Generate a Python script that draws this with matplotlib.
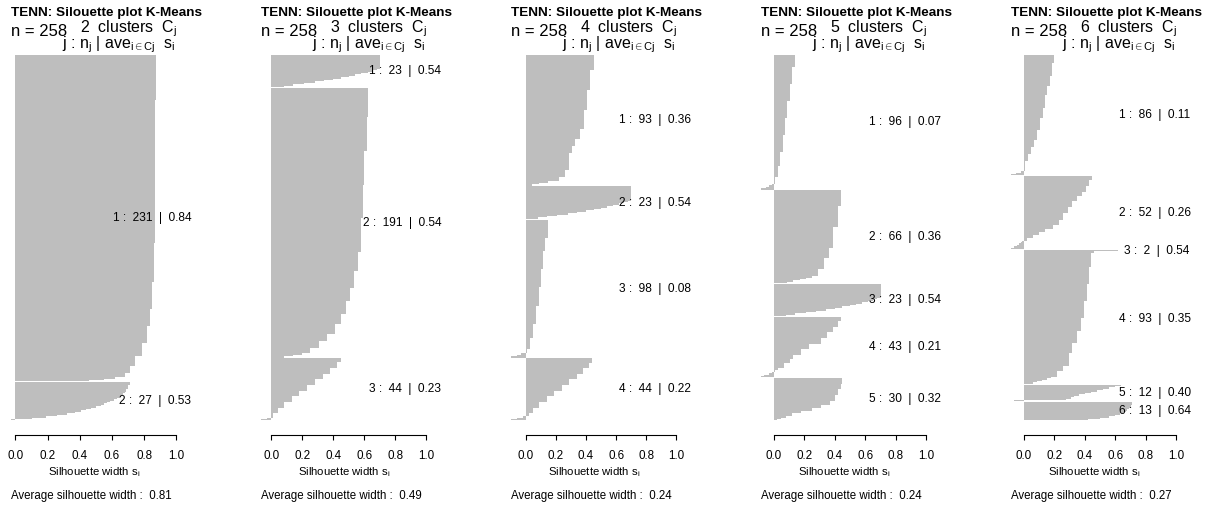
import numpy as np
import matplotlib
matplotlib.use("Agg")
import matplotlib.pyplot as plt
from matplotlib.transforms import ScaledTranslation

plt.rcParams['font.family'] = 'Liberation Sans'
plt.rcParams['mathtext.fontset'] = 'custom'
plt.rcParams['mathtext.rm'] = 'Liberation Sans'
plt.rcParams['mathtext.it'] = 'Liberation Sans'
plt.rcParams['mathtext.bf'] = 'Liberation Sans:bold'

# silhouette widths per cluster as (value, count) runs, top to bottom
c23 = [(0.70, 10), (0.68, 1), (0.65, 1), (0.62, 1), (0.58, 1), (0.54, 1), (0.50, 1),
       (0.45, 1), (0.40, 1), (0.34, 1), (0.28, 1), (0.21, 1), (0.14, 1), (0.08, 1)]

k2_runs = [
    [(0.875, 32), (0.866, 101), (0.86, 28), (0.85, 19), (0.835, 12), (0.815, 12), (0.785, 9),
     (0.745, 7), (0.71, 5), (0.68, 3), (0.62, 1), (0.55, 1), (0.46, 1)],
    [(0.71, 2), (0.70, 3), (0.69, 2), (0.68, 1), (0.67, 1), (0.66, 1), (0.65, 1), (0.63, 1),
     (0.61, 1), (0.59, 1), (0.57, 1), (0.55, 1), (0.53, 1), (0.50, 1), (0.47, 1), (0.44, 1),
     (0.41, 1), (0.37, 1), (0.32, 1), (0.26, 1), (0.19, 1), (0.10, 1), (-0.03, 1)],
]
k3_runs = [
    c23,
    [(0.625, 21), (0.615, 24), (0.60, 24), (0.59, 23), (0.575, 24), (0.56, 14), (0.535, 12),
     (0.51, 9), (0.48, 9), (0.45, 7), (0.41, 7), (0.36, 5), (0.31, 5), (0.25, 4), (0.20, 1),
     (0.14, 1), (0.08, 1)],
    [(0.45, 3), (0.42, 4), (0.38, 4), (0.33, 4), (0.28, 4), (0.23, 4), (0.18, 4), (0.13, 4),
     (0.08, 4), (0.04, 4), (0.01, 3), (-0.03, 1), (-0.07, 1)],
]
k4_runs = [
    [(0.45, 11), (0.43, 14), (0.41, 14), (0.39, 14), (0.36, 7), (0.33, 5), (0.31, 5), (0.29, 12),
     (0.26, 5), (0.22, 3), (0.15, 1), (0.09, 1), (0.04, 1)],
    c23,
    [(0.145, 13), (0.13, 9), (0.115, 13), (0.10, 13), (0.085, 13), (0.068, 13), (0.05, 10),
     (0.03, 8), (0.01, 3), (-0.03, 1), (-0.06, 1), (-0.10, 1)],
    [(0.44, 3), (0.42, 4), (0.38, 4), (0.34, 4), (0.29, 4), (0.24, 4), (0.19, 4), (0.14, 4),
     (0.09, 4), (0.05, 4), (0.02, 2), (-0.02, 1), (-0.06, 1), (-0.10, 1)],
]
k5_runs = [
    [(0.14, 9), (0.12, 12), (0.105, 12), (0.09, 12), (0.076, 12), (0.06, 12), (0.044, 10),
     (0.026, 8), (0.01, 5), (-0.01, 1), (-0.03, 1), (-0.05, 1), (-0.085, 1)],
    [(0.44, 11), (0.42, 15), (0.39, 15), (0.36, 7), (0.33, 8), (0.29, 5), (0.25, 1), (0.21, 1),
     (0.17, 1), (0.13, 1), (0.09, 1)],
    c23,
    [(0.44, 3), (0.42, 4), (0.39, 4), (0.35, 4), (0.31, 4), (0.23, 4), (0.18, 4), (0.13, 3),
     (0.11, 3), (0.07, 3), (0.03, 2), (0.01, 1), (-0.01, 1), (-0.03, 1), (-0.06, 1), (-0.085, 1)],
    [(0.45, 4), (0.44, 4), (0.42, 4), (0.40, 4), (0.37, 3), (0.31, 2), (0.25, 2), (0.18, 2),
     (0.12, 2), (0.08, 1), (0.05, 1), (0.02, 1)],
]
k6_runs = [
    [(0.20, 6), (0.185, 9), (0.17, 7), (0.155, 7), (0.14, 9), (0.125, 7), (0.11, 9), (0.09, 7),
     (0.07, 5), (0.05, 5), (0.03, 5), (0.012, 7), (-0.02, 1), (-0.05, 1), (-0.085, 1)],
    [(0.45, 3), (0.43, 4), (0.41, 4), (0.38, 3), (0.35, 4), (0.32, 4), (0.29, 4), (0.26, 5),
     (0.23, 4), (0.19, 3), (0.14, 2), (0.10, 2), (0.06, 2), (0.02, 2), (-0.01, 1), (-0.02, 1),
     (-0.03, 1), (-0.045, 1), (-0.06, 1), (-0.08, 1)],
    [(0.62, 1), (0.46, 1)],
    [(0.44, 10), (0.43, 12), (0.415, 12), (0.395, 12), (0.375, 9), (0.35, 9), (0.32, 7),
     (0.295, 9), (0.26, 4), (0.22, 4), (0.18, 1), (0.15, 1), (0.12, 1), (0.09, 1), (0.06, 1)],
    [(0.64, 1), (0.60, 1), (0.56, 1), (0.52, 1), (0.48, 1), (0.44, 1), (0.40, 1), (0.36, 1),
     (0.33, 1), (0.31, 1), (0.28, 1), (-0.06, 1)],
    [(0.71, 2), (0.70, 2), (0.69, 1), (0.68, 1), (0.67, 1), (0.65, 1), (0.63, 1), (0.60, 1),
     (0.56, 1), (0.50, 1), (0.42, 1)],
]

ks = [2, 3, 4, 5, 6]
panel_runs = [k2_runs, k3_runs, k4_runs, k5_runs, k6_runs]
cluster_avg = [
    [0.84, 0.53],
    [0.54, 0.54, 0.23],
    [0.36, 0.54, 0.08, 0.22],
    [0.07, 0.36, 0.54, 0.21, 0.32],
    [0.11, 0.26, 0.54, 0.35, 0.40, 0.64],
]
avg_width = [0.81, 0.49, 0.24, 0.24, 0.27]
n_obs = 258
title = "TENN: Silouette plot K-Means"

W, H = 1212, 508
fig = plt.figure(figsize=(W / 100, H / 100), dpi=100)


def fx(px):
    return px / W


def fy(py):
    return 1 - py / H


labels = []
for p, (k, runs) in enumerate(zip(ks, panel_runs)):
    off = 250 * p
    ax = fig.add_axes([fx(off + 4), fy(435), 179 / W, (435 - 40) / H])

    # one value per observation, clusters separated by half a bar
    vals, ypos, centers = [], [], []
    y = 0.5
    for j, cl in enumerate(runs):
        if j > 0:
            y += 0.5
        start = y
        for v, c in cl:
            for _ in range(c):
                vals.append(v)
                ypos.append(y)
                y += 1
        centers.append((start + y - 1) / 2)
    total = y - 0.5
    vals = np.array(vals)

    ax.barh(ypos, vals, height=1.0, color='#BEBEBE', edgecolor='none',
            linewidth=0, antialiased=False)

    xmin = min(0, vals.min())
    pad = 0.04 * (1 - xmin)
    ax.set_xlim(xmin - pad, 1 + pad)
    ax.set_ylim(total + 0.04 * total, -0.04 * total)

    for s in ['left', 'right', 'top']:
        ax.spines[s].set_visible(False)
    ax.spines['bottom'].set_bounds(0, 1)
    ax.spines['bottom'].set_linewidth(0.8)
    ax.set_yticks([])
    ax.set_xticks(np.arange(0, 1.01, 0.2))
    ax.set_xticklabels(["%.1f" % t for t in np.arange(0, 1.01, 0.2)], fontsize=8.4)
    ax.tick_params(axis='x', length=3.6, width=0.8, pad=7)
    ax.patch.set_visible(False)

    for j, cl in enumerate(runs):
        nj = sum(c for _, c in cl)
        t = ax.text(1, centers[j], "%d :  %d  |  %.2f" % (j + 1, nj, cluster_avg[p][j]),
                    ha='left', va='center', fontsize=8.6, clip_on=False)
        labels.append((ax, t))

    fig.text(fx(off + 11), fy(16), title, fontsize=9.7, fontweight='bold', va='baseline')
    fig.text(fx(off + 11), fy(36), "n = %d" % n_obs, fontsize=12, va='baseline')
    fig.text(fx(off + 177), fy(32), "%d  clusters  $C_j$" % k, fontsize=11.5,
             ha='right', va='baseline')
    fig.text(fx(off + 175), fy(48), r"j : $n_j$ | $\mathrm{ave}_{i\in\mathrm{Cj}}$  $s_i$",
             fontsize=11.5, ha='right', va='baseline')
    fig.text(fx(off + 94), fy(472), r"Silhouette width $s_i$", fontsize=8.2,
             ha='center', va='center')
    fig.text(fx(off + 11), fy(496), "Average silhouette width :  %.2f" % avg_width[p],
             fontsize=8.3, va='center')

# R style adj = 0.8 for the cluster labels
fig.canvas.draw()
r = fig.canvas.get_renderer()
for ax, t in labels:
    w = t.get_window_extent(r).width
    t.set_transform(ax.transData + ScaledTranslation(-0.8 * w / fig.dpi, 0, fig.dpi_scale_trans))

fig.savefig("out.png", dpi=100)
